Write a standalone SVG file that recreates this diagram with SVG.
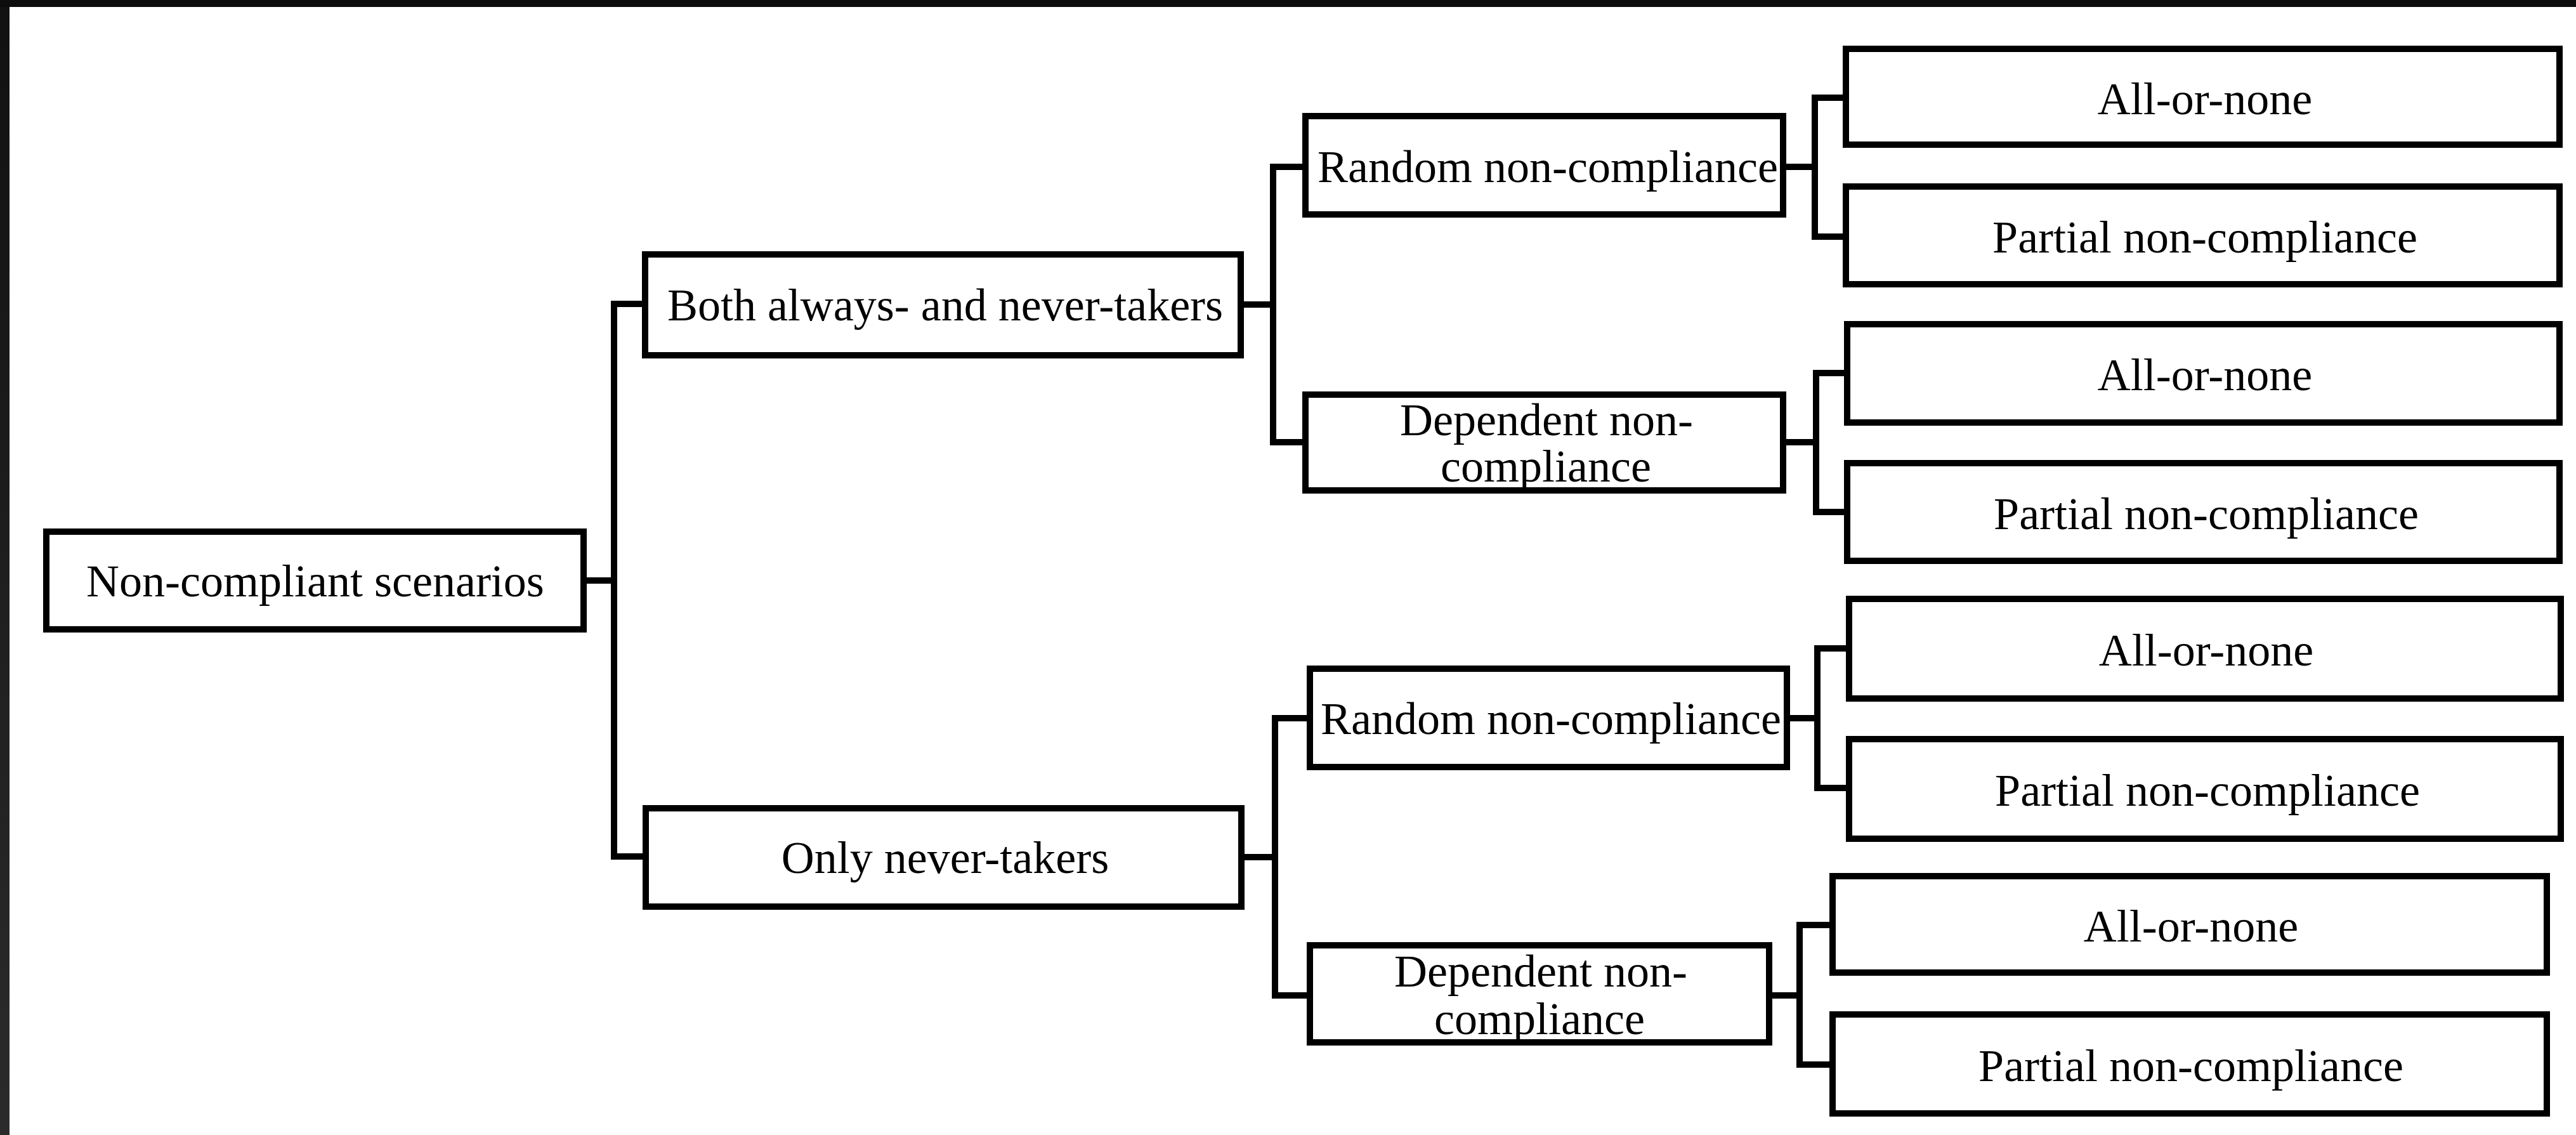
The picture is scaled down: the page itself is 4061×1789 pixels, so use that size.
<svg xmlns="http://www.w3.org/2000/svg" width="4061" height="1789" viewBox="0 0 4061 1789">
  <style>
    .box { fill: #ffffff; stroke: #000000; stroke-width: 10; }
    .lbl { font-family: "Liberation Serif", "Times New Roman", serif; font-size: 72px; fill: #000000; text-anchor: middle; }
    .wire { fill: none; stroke: #000000; stroke-width: 10; stroke-linejoin: miter; stroke-linecap: square; }
  </style>
  <defs>
    <linearGradient id="edgeShade" x1="0" y1="0" x2="0" y2="1">
      <stop offset="0" stop-color="#111111"/>
      <stop offset="1" stop-color="#2b2b2b"/>
    </linearGradient>
  </defs>

  <!-- page -->
  <rect x="0" y="0" width="4061" height="1789" fill="#ffffff"/>
  <rect x="0" y="0" width="15" height="1789" fill="url(#edgeShade)"/>
  <rect x="0" y="0" width="4061" height="11" fill="#0d0d0d"/>

  <!-- connectors -->
  <g id="connectors">
    <!-- root to level 1 -->
    <path class="wire" d="M920 915 H968 M968 479 V1350 M968 479 H1017 M968 1350 H1018"/>
    <!-- Both always- and never-takers to level 2 -->
    <path class="wire" d="M1956 480 H2007 M2007 263 V697 M2007 263 H2058 M2007 697 H2058"/>
    <!-- Only never-takers to level 2 -->
    <path class="wire" d="M1957 1351 H2010 M2010 1132 V1569 M2010 1132 H2065 M2010 1569 H2065"/>
    <!-- Random non-compliance (upper) to leaves -->
    <path class="wire" d="M2811 263 H2861 M2861 154 V373 M2861 154 H2910 M2861 373 H2910"/>
    <!-- Dependent non-compliance (upper) to leaves -->
    <path class="wire" d="M2811 697 H2863 M2863 588 V807 M2863 588 H2912 M2863 807 H2912"/>
    <!-- Random non-compliance (lower) to leaves -->
    <path class="wire" d="M2817 1132 H2865 M2865 1022 V1242 M2865 1022 H2915 M2865 1242 H2915"/>
    <!-- Dependent non-compliance (lower) to leaves -->
    <path class="wire" d="M2789 1569 H2837 M2837 1458 V1678 M2837 1458 H2889 M2837 1678 H2889"/>
  </g>

  <!-- root -->
  <g id="root">
    <rect class="box" x="73" y="838" width="847" height="154"/>
    <text class="lbl" x="497" y="940">Non-compliant scenarios</text>
  </g>

  <!-- level 1 -->
  <g id="both-takers">
    <rect class="box" x="1017" y="401" width="939" height="159"/>
    <text class="lbl" x="1490" y="505">Both always- and never-takers</text>
  </g>
  <g id="only-never-takers">
    <rect class="box" x="1018" y="1274" width="939" height="155"/>
    <text class="lbl" x="1490" y="1376">Only never-takers</text>
  </g>

  <!-- level 2 -->
  <g id="random-a">
    <rect class="box" x="2058" y="183" width="753" height="155"/>
    <text class="lbl" x="2440" y="287">Random non-compliance</text>
  </g>
  <g id="dependent-a">
    <rect class="box" x="2058" y="622" width="753" height="151"/>
    <text class="lbl" x="2438" y="686">Dependent non-</text>
    <text class="lbl" x="2437" y="759">compliance</text>
  </g>
  <g id="random-b">
    <rect class="box" x="2065" y="1054" width="752" height="155"/>
    <text class="lbl" x="2445" y="1157">Random non-compliance</text>
  </g>
  <g id="dependent-b">
    <rect class="box" x="2065" y="1490" width="724" height="153"/>
    <text class="lbl" x="2429" y="1555">Dependent non-</text>
    <text class="lbl" x="2427" y="1630">compliance</text>
  </g>

  <!-- leaves -->
  <g id="leaf-a1">
    <rect class="box" x="2910" y="77" width="1125" height="151"/>
    <text class="lbl" x="3476" y="180">All-or-none</text>
  </g>
  <g id="leaf-a2">
    <rect class="box" x="2910" y="294" width="1125" height="154"/>
    <text class="lbl" x="3476" y="398">Partial non-compliance</text>
  </g>
  <g id="leaf-b1">
    <rect class="box" x="2912" y="511" width="1123" height="155"/>
    <text class="lbl" x="3476" y="615">All-or-none</text>
  </g>
  <g id="leaf-b2">
    <rect class="box" x="2912" y="730" width="1123" height="154"/>
    <text class="lbl" x="3478" y="834">Partial non-compliance</text>
  </g>
  <g id="leaf-c1">
    <rect class="box" x="2915" y="944" width="1122" height="157"/>
    <text class="lbl" x="3478" y="1049">All-or-none</text>
  </g>
  <g id="leaf-c2">
    <rect class="box" x="2915" y="1165" width="1122" height="157"/>
    <text class="lbl" x="3480" y="1270">Partial non-compliance</text>
  </g>
  <g id="leaf-d1">
    <rect class="box" x="2889" y="1381" width="1126" height="152"/>
    <text class="lbl" x="3454" y="1484">All-or-none</text>
  </g>
  <g id="leaf-d2">
    <rect class="box" x="2889" y="1599" width="1126" height="156"/>
    <text class="lbl" x="3454" y="1704">Partial non-compliance</text>
  </g>
</svg>
